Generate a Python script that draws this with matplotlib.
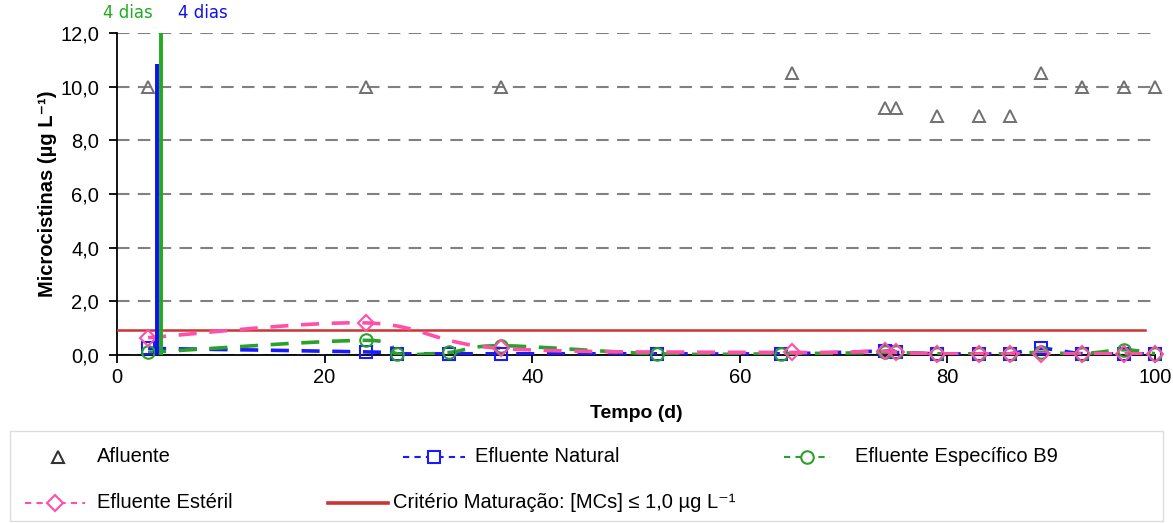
import numpy as np
import matplotlib
matplotlib.use("Agg")
import matplotlib.pyplot as plt
from matplotlib.path import Path
from matplotlib.patches import PathPatch, Rectangle
from matplotlib.lines import Line2D
from matplotlib.ticker import FuncFormatter

plt.rcParams['font.family'] = ['Liberation Sans', 'DejaVu Sans']

# data
days_afluente = [3, 24, 37, 65, 74, 75, 79, 83, 86, 89, 93, 97, 100]
afluente = [10.0, 10.0, 10.0, 10.5, 9.2, 9.2, 8.9, 8.9, 8.9, 10.5, 10.0, 10.0, 10.0]

days_efluente = [3, 24, 27, 32, 37, 52, 64, 74, 75, 79, 83, 86, 89, 93, 97, 100]
natural = [0.25, 0.12, 0.05, 0.05, 0.05, 0.05, 0.05, 0.15, 0.1, 0.05, 0.05, 0.05, 0.25, 0.05, 0.05, 0.05]
especifico_b9 = [0.1, 0.55, 0.05, 0.1, 0.35, 0.05, 0.05, 0.1, 0.1, 0.05, 0.05, 0.05, 0.1, 0.05, 0.2, 0.05]

days_esteril = [3, 24, 37, 65, 74, 75, 79, 83, 86, 89, 93, 97, 100]
esteril = [0.65, 1.2, 0.25, 0.1, 0.15, 0.1, 0.05, 0.05, 0.05, 0.05, 0.05, 0.05, 0.05]

criterio = 0.92
criterio_span = [0, 99]

# "4 dias" spikes: blue (natural) and green (B9)
spike_x = [4.2, 3.9]
spike_top = [12.0, 10.85]
spike_colors = ['#22aa22', '#1010ee']
# labels above the plot: green on the left, blue on the right
label_x = [1.1, 8.3]
label_colors = ['#22aa22', '#1010ee']

x_ticks = [0, 20, 40, 60, 80, 100]
y_ticks = [0, 2, 4, 6, 8, 10, 12]

BLUE = '#1a1aff'
GREEN = '#2ca02c'
PINK = '#ff4fa7'
RED = '#cc3333'
GRAY = '#707070'


def smooth_path(x, y):
    # excel-style smoothed line (catmull-rom -> bezier)
    pts = np.column_stack([x, y]).astype(float)
    n = len(pts)
    verts = [pts[0]]
    codes = [Path.MOVETO]
    for i in range(n - 1):
        p0 = pts[i - 1] if i > 0 else pts[i]
        p1 = pts[i]
        p2 = pts[i + 1]
        p3 = pts[i + 2] if i + 2 < n else pts[i + 1]
        c1 = p1 + (p2 - p0) / 6.0
        c2 = p2 - (p3 - p1) / 6.0
        verts += [c1, c2, p2]
        codes += [Path.CURVE4] * 3
    return Path(verts, codes)


fig = plt.figure(figsize=(11.73, 5.23), dpi=100)
ax = fig.add_axes([0.0997, 0.321, 0.885, 0.616])

ax.set_xlim(0, 100)
ax.set_ylim(0, 12)
ax.yaxis.grid(True, linestyle=(0, (6, 4)), color='#808080', linewidth=1.5)
ax.set_axisbelow(True)
for s in ['top', 'right']:
    ax.spines[s].set_visible(False)
for s in ['left', 'bottom']:
    ax.spines[s].set_linewidth(1.3)
ax.set_xticks(x_ticks)
ax.set_yticks(y_ticks)
ax.yaxis.set_major_formatter(FuncFormatter(lambda v, p: f"{v:.1f}".replace('.', ',')))
ax.tick_params(labelsize=14.5, length=6, width=1.3, colors='black')
ax.tick_params(axis='y', pad=7)

# criterio line
ax.plot(criterio_span, [criterio, criterio], color=RED, linewidth=1.8, zorder=3)

# smoothed dashed series
series = [
    (days_efluente, natural, BLUE, 's', 8.5),
    (days_efluente, especifico_b9, GREEN, 'o', 9),
    (days_esteril, esteril, PINK, 'D', 8),
]
for xs, ys, col, mk, ms in series:
    patch = PathPatch(smooth_path(xs, ys), facecolor='none', edgecolor=col,
                      linewidth=2.6, linestyle=(0, (5, 3.5)), zorder=4)
    ax.add_patch(patch)
    ax.plot(xs, ys, linestyle='none', marker=mk, markersize=ms,
            markerfacecolor='none', markeredgecolor=col, markeredgewidth=1.5, zorder=5, clip_on=False)

ax.plot(days_afluente, afluente, linestyle='none', marker='^', markersize=8.5,
        markerfacecolor='none', markeredgecolor=GRAY, markeredgewidth=1.4, zorder=5, clip_on=False)

# 4 dias spikes
for sx, top, col in zip(spike_x, spike_top, spike_colors):
    ax.vlines(sx, 0, top, colors=col, linewidth=2.8, zorder=6)
for lx, col in zip(label_x, label_colors):
    ax.text(lx, 12.4, '4 dias', color=col, fontsize=12, family='DejaVu Sans',
            ha='center', va='bottom')

ax.set_ylabel('Microcistinas (µg L⁻¹)', fontsize=14.5, fontweight='bold', labelpad=2)
ax.set_xlabel('Tempo (d)', fontsize=14, fontweight='bold', labelpad=13)

# legend, drawn by hand in figure pixels to follow the reference layout
W, H = 1173, 523
fig.add_artist(Rectangle((10 / W, 1 - 521 / H), 1153 / W, 90 / H, transform=fig.transFigure,
                         facecolor='none', edgecolor='#dddddd', linewidth=1.0))

legend_items = [
    # label, text x, row y, color, linestyle, marker, line from, line to
    ('Afluente', 97, 457, GRAY, 'none', '^', 50, 66),
    ('Efluente Natural', 475, 457, BLUE, (0, (3, 2.5)), 's', 403, 465),
    ('Efluente Específico B9', 855, 457, GREEN, (0, (3, 2.5)), 'o', 784, 830),
    ('Efluente Estéril', 97, 503, PINK, (0, (3, 2.5)), 'D', 25, 85),
    ('Critério Maturação: [MCs] ≤ 1,0 µg L⁻¹', 393, 503, RED, '-', None, 328, 388),
]
for label, tx, ry, col, ls, mk, l0, l1 in legend_items:
    yf = 1 - ry / H
    xm = (l0 + l1) / 2
    if ls != 'none':
        fig.add_artist(Line2D([l0 / W, l1 / W], [yf, yf], transform=fig.transFigure,
                              color=col, linestyle=ls, linewidth=2.6 if ls == '-' else 1.5))
    if mk:
        fig.add_artist(Line2D([xm / W], [yf], transform=fig.transFigure, marker=mk,
                              markersize=9 if mk != 'D' else 8, markerfacecolor='white',
                              markeredgecolor=col if mk != '^' else '#333333',
                              markeredgewidth=1.5, linestyle='none'))
    fig.text(tx / W, yf, label, fontsize=14.5, va='center', ha='left')

fig.savefig('out.png', dpi=100)
